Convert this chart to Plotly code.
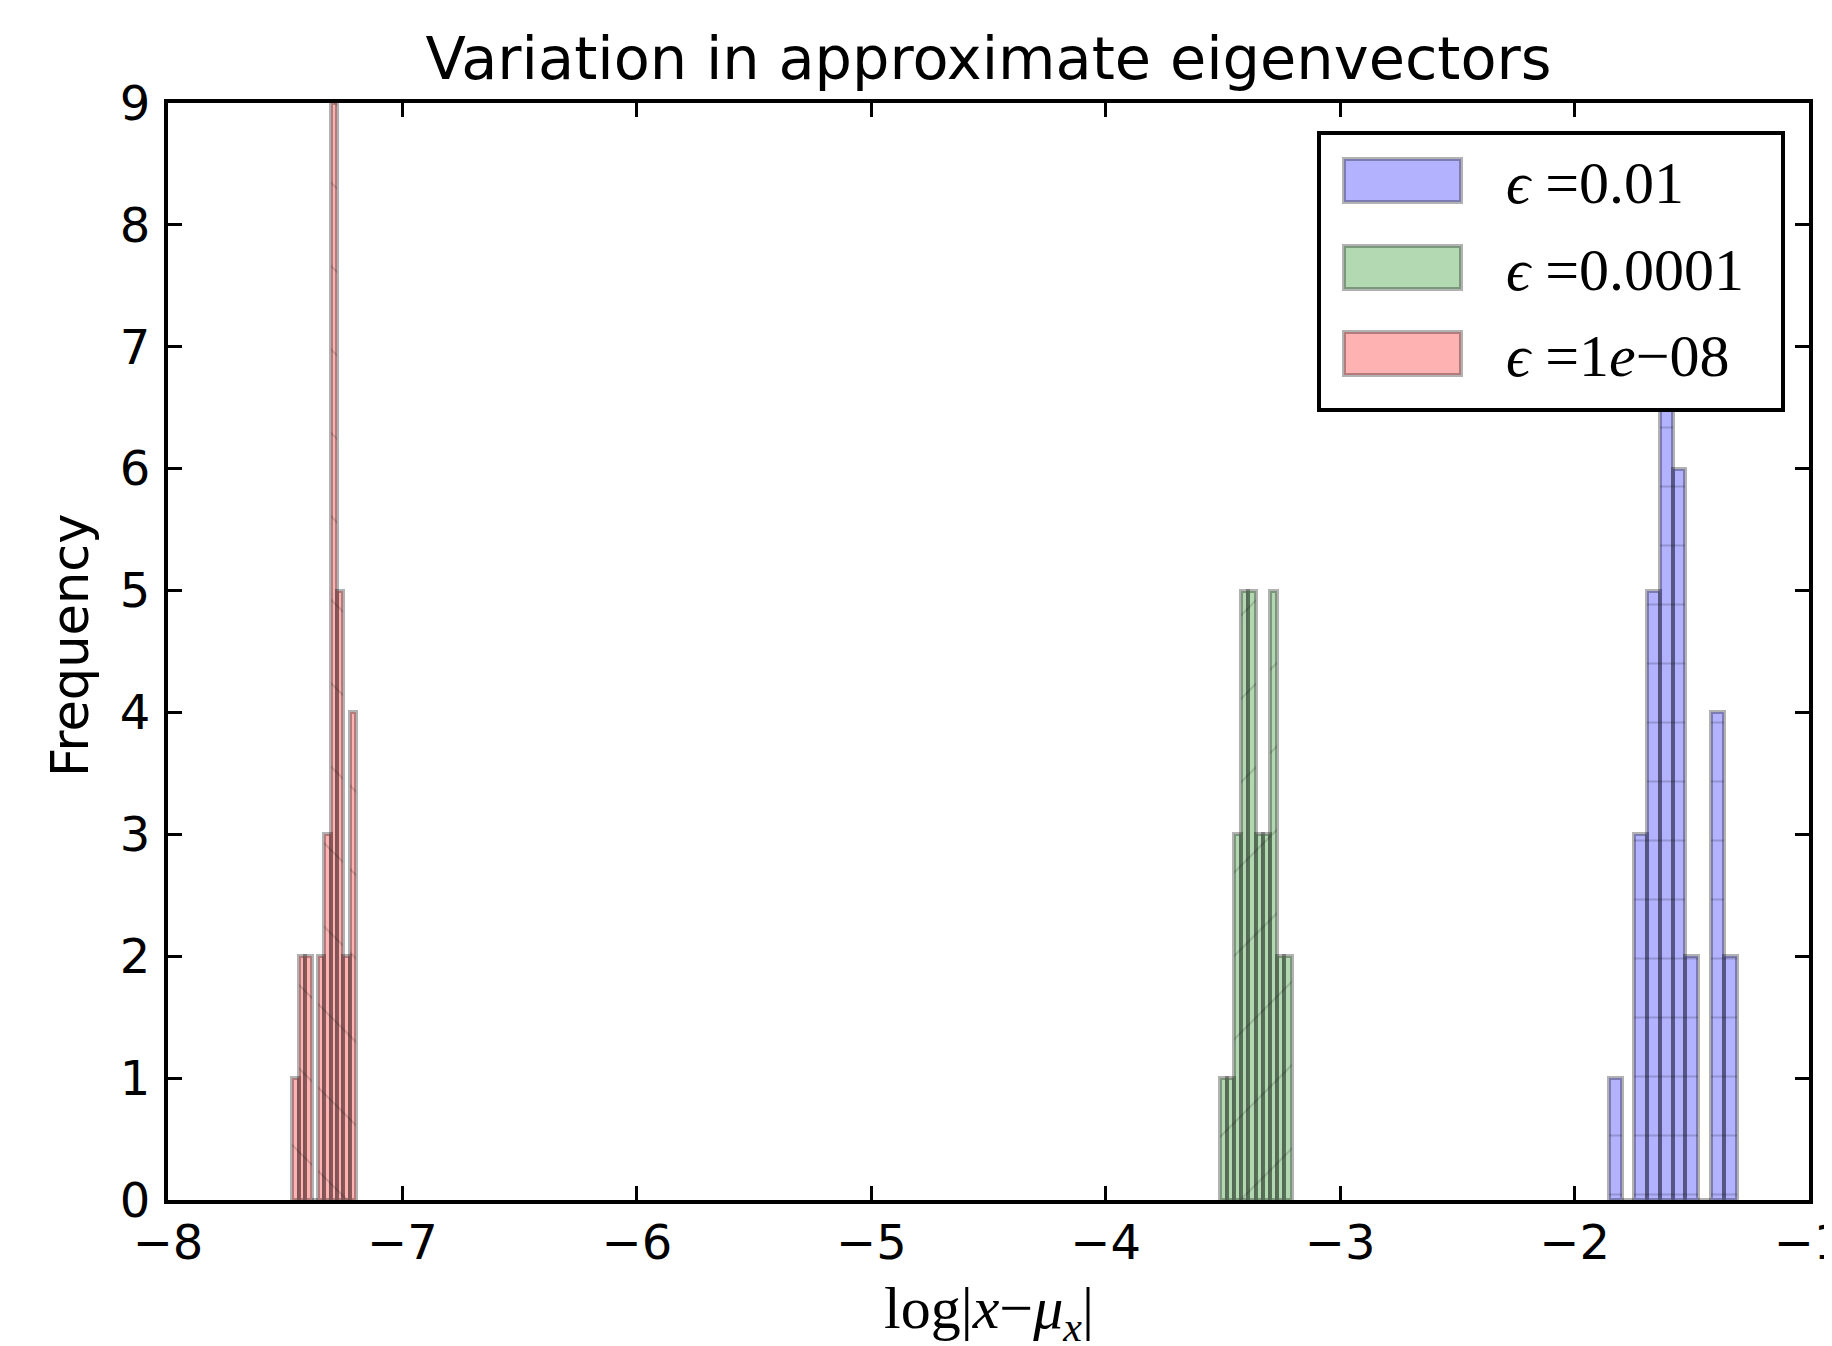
import numpy as np
import plotly.graph_objects as go

# ---- data ----
blue_counts = [1, 0, 3, 5, 7, 6, 2, 0, 4, 2]
green_counts = [1, 1, 3, 5, 5, 3, 3, 5, 2, 2]
red_counts = [1, 2, 2, 0, 2, 3, 9, 5, 2, 4]
blue_range = [-1.854, -1.309]
green_range = [-3.514, -3.207]
red_range = [-7.469, -7.197]
series_labels = ["<i>ϵ</i> =0.01", "<i>ϵ</i> =0.0001", "<i>ϵ</i> =1<i>e</i>−08"]
x_ticks = [-8, -7, -6, -5, -4, -3, -2, -1]
y_ticks = [0, 1, 2, 3, 4, 5, 6, 7, 8, 9]

fills = ["rgba(0,0,255,0.3)", "rgba(0,128,0,0.3)", "rgba(255,0,0,0.3)"]
hatches = ["-", "/", "\\"]
edge = "rgba(0,0,0,0.3)"

W, H = 1832, 1346
OFF = 8  # page body margin
L, R, T, B = 168 - OFF, 1809 - OFF, 103 - OFF, 1200 - OFF

fig = go.Figure()
for counts, rng, fill, hatch, name in zip(
        [blue_counts, green_counts, red_counts],
        [blue_range, green_range, red_range],
        fills, hatches, series_labels):
    edges = np.linspace(rng[0], rng[1], len(counts) + 1)
    centers = (edges[:-1] + edges[1:]) / 2
    width = edges[1] - edges[0]
    fig.add_trace(go.Bar(
        x=centers, y=counts, width=width, name=name, showlegend=False,
        marker=dict(color=fill, line=dict(color=edge, width=4),
                    pattern=dict(shape=hatch, size=59, solidity=0.03,
                                 fgcolor="rgba(0,0,0,0.35)", fillmode="overlay")),
    ))

def px(x):
    return (x - OFF - L) / (R - L)

def py(y):
    return (B - (y - OFF)) / (B - T)

# ---- custom legend ----
shapes = [dict(type="rect", xref="paper", yref="paper",
               x0=px(1319), x1=px(1783), y0=py(410), y1=py(133),
               line=dict(color="black", width=4), fillcolor="white", layer="above")]
annotations = []
sw_tops = [159, 246, 332]
for i, (fill, name) in enumerate(zip(fills, series_labels)):
    t0 = sw_tops[i]
    shapes.append(dict(type="rect", xref="paper", yref="paper",
                       x0=px(1344), x1=px(1461), y0=py(t0 + 43), y1=py(t0),
                       line=dict(color=edge, width=4), fillcolor=fill, layer="above"))
    annotations.append(dict(xref="paper", yref="paper", x=px(1504), y=py(t0 + 24),
                            xanchor="left", yanchor="middle", showarrow=False,
                            text=name, font=dict(family="Liberation Serif", size=60, color="black")))

# axis titles as annotations for exact placement
annotations.append(dict(xref="paper", yref="paper", x=0.5, y=py(1312),
                        xanchor="center", yanchor="middle", showarrow=False,
                        text="log|<i>x</i>−<i>μ</i><sub><i>x</i></sub>|",
                        font=dict(family="Liberation Serif", size=60, color="black")))
annotations.append(dict(xref="paper", yref="paper", x=px(70), y=py(646),
                        xanchor="center", yanchor="middle", showarrow=False,
                        textangle=-90, text="Frequency",
                        font=dict(family="DejaVu Sans", size=51, color="black")))

axis_common = dict(showline=True, linecolor="black", linewidth=4, mirror="ticks",
                   ticks="inside", ticklen=14, tickwidth=2.5, tickcolor="black",
                   showgrid=False, zeroline=False, automargin=False,
                   tickfont=dict(family="DejaVu Sans", size=48, color="black"))

fig.update_layout(
    width=W, height=H,
    margin=dict(l=L, r=W - R, t=T, b=H - B, autoexpand=False),
    paper_bgcolor="white", plot_bgcolor="white",
    barmode="overlay", bargap=0,
    title=dict(text="Variation in approximate eigenvectors", x=0.5, xanchor="center",
               xref="paper", y=1 - 50 / H, yanchor="middle", yref="container",
               font=dict(family="DejaVu Sans", size=59, color="black")),
    xaxis=dict(range=[-8, -1], tickvals=x_ticks,
               ticktext=[str(v).replace("-", "−") for v in x_ticks],
               ticklabelstandoff=-3, ticklabeloverflow="allow", **axis_common),
    yaxis=dict(range=[0, 9], tickvals=y_ticks, ticklabelstandoff=4,
               **axis_common),
    shapes=shapes, annotations=annotations,
)

fig.write_html("out.html")
